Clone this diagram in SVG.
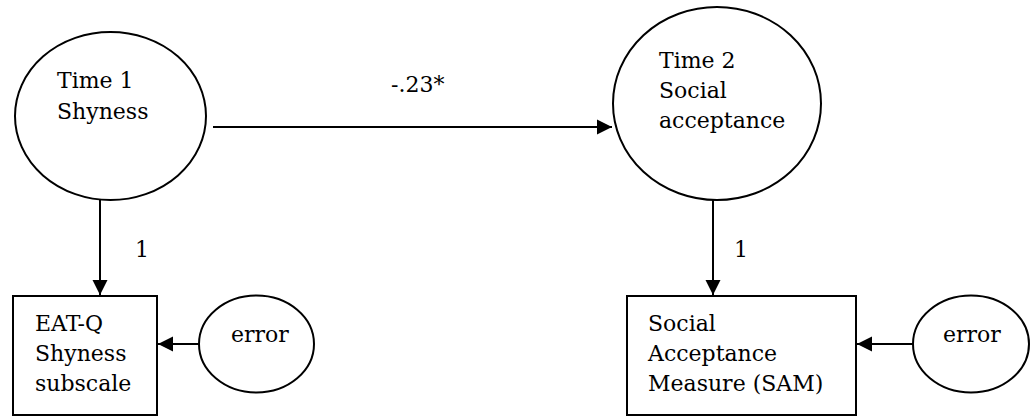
<svg xmlns="http://www.w3.org/2000/svg" width="1036" height="417" viewBox="0 0 1036 417">
  <style>
    .shape { fill: #ffffff; stroke: #000000; stroke-width: 2; }
    .conn { fill: none; stroke: #000000; stroke-width: 2; }
    text { font-family: 'DejaVu Serif', 'Liberation Serif', serif; font-size: 22px; fill: #000000; }
  </style>
  <defs>
    <marker id="arrow" markerUnits="userSpaceOnUse" markerWidth="16" markerHeight="16" viewBox="0 0 16 16" refX="15" refY="8" orient="auto">
      <path d="M0,0.5 L15,8 L0,15.5 Z" fill="#000000"/>
    </marker>
  </defs>
  <rect width="1036" height="417" fill="#ffffff"/>

  <g id="connectors">
    <line class="conn" x1="213" y1="127" x2="612" y2="127" marker-end="url(#arrow)"/>
    <line class="conn" x1="100" y1="200" x2="100" y2="295" marker-end="url(#arrow)"/>
    <line class="conn" x1="713" y1="200" x2="713" y2="295" marker-end="url(#arrow)"/>
    <line class="conn" x1="199" y1="344" x2="158" y2="344" marker-end="url(#arrow)"/>
    <line class="conn" x1="913" y1="344" x2="857" y2="344" marker-end="url(#arrow)"/>
    <text x="391" y="92">-.23*</text>
    <text x="135" y="257">1</text>
    <text x="734" y="257">1</text>
  </g>

  <g id="time1-shyness">
    <ellipse class="shape" cx="110.5" cy="116" rx="95.5" ry="84"/>
    <text x="57" y="88">Time 1</text>
    <text x="57" y="119">Shyness</text>
  </g>

  <g id="time2-social-acceptance">
    <ellipse class="shape" cx="717" cy="103.5" rx="104" ry="96.5"/>
    <text x="659" y="68">Time 2</text>
    <text x="659" y="98">Social</text>
    <text x="659" y="128">acceptance</text>
  </g>

  <g id="eatq-box">
    <rect class="shape" x="13" y="296" width="144" height="119"/>
    <text x="35" y="331">EAT-Q</text>
    <text x="35" y="361">Shyness</text>
    <text x="35" y="391">subscale</text>
  </g>

  <g id="error1">
    <ellipse class="shape" cx="256.5" cy="344" rx="57.5" ry="48.5"/>
    <text x="231" y="342">error</text>
  </g>

  <g id="sam-box">
    <rect class="shape" x="627" y="296" width="229" height="119"/>
    <text x="648" y="331">Social</text>
    <text x="648" y="361">Acceptance</text>
    <text x="648" y="391">Measure (SAM)</text>
  </g>

  <g id="error2">
    <ellipse class="shape" cx="971" cy="344" rx="58" ry="48.5"/>
    <text x="943" y="342">error</text>
  </g>
</svg>
